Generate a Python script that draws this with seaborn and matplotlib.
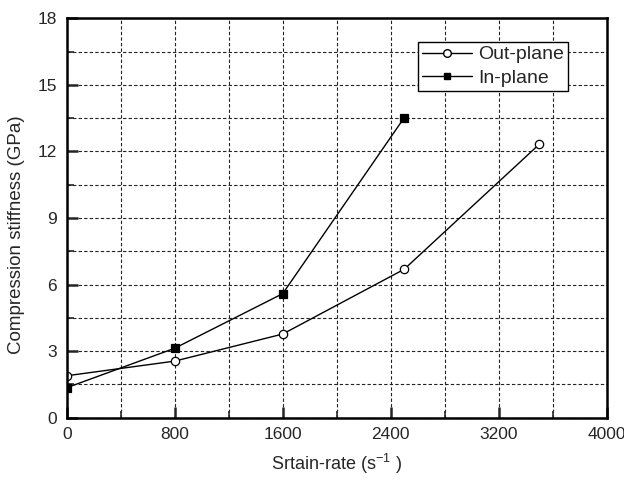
import matplotlib
matplotlib.use("Agg")
import matplotlib.pyplot as plt
import seaborn as sns
import pandas as pd
from matplotlib.ticker import MultipleLocator
from matplotlib.lines import Line2D

strain_out = [0, 800, 1600, 2500, 3500]
stiff_out = [1.89, 2.55, 3.77, 6.69, 12.32]
strain_in = [0, 800, 1600, 2500]
stiff_in = [1.35, 3.13, 5.59, 13.52]
series_names = ["Out-plane", "In-plane"]

df = pd.concat([
    pd.DataFrame({"x": strain_out, "y": stiff_out, "s": series_names[0]}),
    pd.DataFrame({"x": strain_in, "y": stiff_in, "s": series_names[1]}),
])

sns.set_style("white")
plt.rcParams['font.family'] = ['Liberation Sans', 'DejaVu Sans']

fig = plt.figure(figsize=(6.24, 4.79), dpi=100)
ax = fig.add_axes([66.7/624, 1-417.7/479, 540/624, 399.4/479])

sns.lineplot(data=df, x="x", y="y", hue="s", style="s",
             palette={series_names[0]: "black", series_names[1]: "black"},
             markers={series_names[0]: "o", series_names[1]: "s"},
             dashes=False, ax=ax, linewidth=1.0, markersize=6,
             markeredgewidth=0.9, sort=False, legend=False)
for ln in ax.get_lines():
    if ln.get_marker() == 'o':
        ln.set_markerfacecolor('white')
        ln.set_markeredgecolor('black')
        ln.set_markersize(6)
    elif ln.get_marker() == 's':
        ln.set_markerfacecolor('black')
        ln.set_markeredgecolor('black')
        ln.set_markersize(5.5)

ax.set_xlim(0, 4000)
ax.set_ylim(0, 18)
ax.xaxis.set_major_locator(MultipleLocator(800))
ax.xaxis.set_minor_locator(MultipleLocator(400))
ax.yaxis.set_major_locator(MultipleLocator(3))
ax.yaxis.set_minor_locator(MultipleLocator(1.5))

ax.grid(True, which='both', color='#222222', linestyle=(0, (3, 2)), linewidth=0.8)
ax.set_axisbelow(True)

for sp in ax.spines.values():
    sp.set_linewidth(1.8)
    sp.set_color('black')
    sp.set_visible(True)

ax.tick_params(which='major', direction='in', length=8, width=1.8, labelsize=12.5,
               pad=7, bottom=True, left=True, top=False, right=False)
ax.tick_params(which='minor', direction='in', length=5, width=1.2,
               bottom=True, left=True, top=False, right=False)

ax.set_xlabel("Srtain-rate (s$^{\\mathregular{-1}}$ )", fontsize=13, labelpad=7)
ax.set_ylabel("Compression stiffness (GPa)", fontsize=13.5, labelpad=9)
ax.yaxis.set_label_coords(-0.078, 0.459)

handles = [Line2D([], [], color='black', lw=1.0, marker='o', markerfacecolor='white',
                  markeredgecolor='black', markersize=5.5),
           Line2D([], [], color='black', lw=1.0, marker='s', markerfacecolor='black',
                  markersize=5)]
leg = ax.legend(handles, series_names, loc='upper right', bbox_to_anchor=(0.928, 0.941),
                fontsize=14, frameon=True, fancybox=False, edgecolor='black',
                framealpha=1, borderpad=0.2, handlelength=2.6, handletextpad=0.3,
                labelspacing=0.3, borderaxespad=0)
leg.get_frame().set_linewidth(1.0)

fig.savefig("out.png", dpi=100)
